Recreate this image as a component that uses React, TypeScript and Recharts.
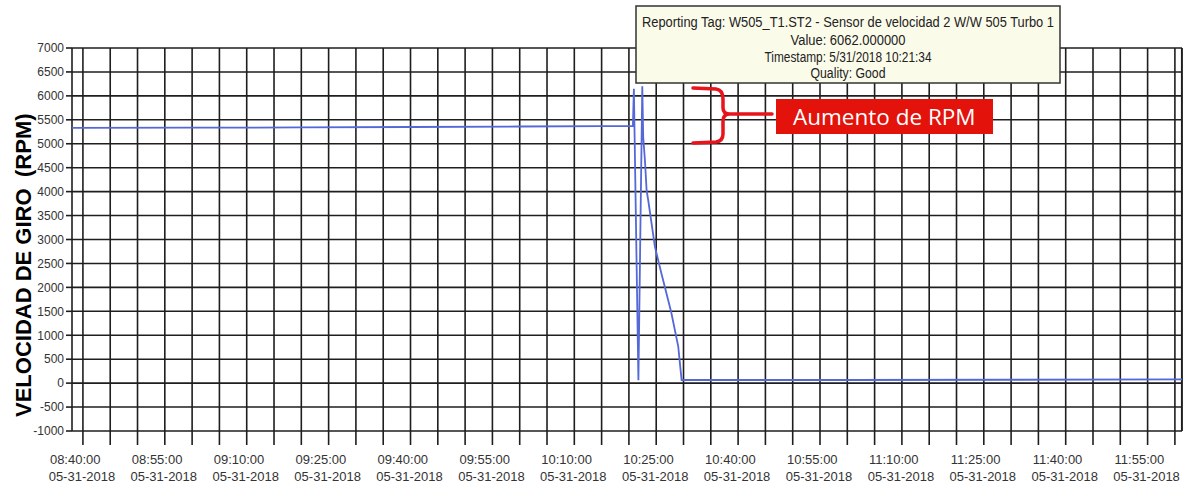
import React from "react"
import { CartesianGrid, Line, LineChart, ReferenceLine, XAxis, YAxis } from "recharts"

// minutes since midnight on 05-31-2018
const minutes = [
    518, 540, 560, 580, 600, 615, 620.73,
    620.91, 621.74, 622.45, 622.62, 622.93, 623.24, 623.53,
    624.76, 625.91, 627.75, 629.03, 629.65,
    660, 690, 721.3,
]
const rpm = [
    5330, 5335, 5340, 5350, 5360, 5370, 5375,
    6150, 60, 6200, 5140, 4660, 4030, 3825,
    2850, 2310, 1480, 770, 65,
    65, 70, 80,
]

const timeLabels = [
    "08:40:00", "08:55:00", "09:10:00", "09:25:00", "09:40:00", "09:55:00", "10:10:00",
    "10:25:00", "10:40:00", "10:55:00", "11:10:00", "11:25:00", "11:40:00", "11:55:00",
]
const dateLabel = "05-31-2018"
const yTicks = [
    7000, 6500, 6000, 5500, 5000, 4500, 4000, 3500, 3000, 2500,
    2000, 1500, 1000, 500, 0, -500, -1000,
]
const tooltipLines = [
    "Reporting Tag: W505_T1.ST2 - Sensor de velocidad 2 W/W 505  Turbo 1",
    "Value: 6062.000000",
    "Timestamp: 5/31/2018 10:21:34",
    "Quality: Good",
]

const startMin = 520
const endMin = 720
const domainMin = 518
const domainMax = 721.3

const data = minutes.map((t, i) => ({ t, v: rpm[i] }))

const gridTicks: number[] = []
for (let m = startMin; m <= endMin; m += 5) gridTicks.push(m)

const font = "'Liberation Sans', Arial, sans-serif"
const gridColor = "#1e1e1e"

function TimeTick(props: any) {
    const { x, y, payload } = props
    const off = payload.value - startMin
    if (off % 15 !== 0) return null
    const label = timeLabels[off / 15]
    if (!label) return null
    return (
        <g>
            <text x={x - 33} y={y + 19} fontSize={13} fontFamily={font} fill="#333" textAnchor="start">
                {label}
            </text>
            <text x={x - 1} y={y + 36} fontSize={13} fontFamily={font} fill="#333" textAnchor="middle">
                {dateLabel}
            </text>
        </g>
    )
}

const tipWidths = [412, 115, 167, 75]
const tipBaselines = [27, 45, 62, 78]

export default function App() {
    return (
        <div style={{ position: "absolute", left: 0, top: 0, width: 1186, height: 488, background: "#fff" }}>
            <LineChart width={1186} height={488} data={data} margin={{ top: 48, right: 4, bottom: 0, left: 0 }}>
                <CartesianGrid stroke={gridColor} strokeWidth={1.6} />
                <XAxis
                    type="number"
                    dataKey="t"
                    domain={[domainMin, domainMax]}
                    ticks={gridTicks}
                    interval={0}
                    allowDataOverflow
                    height={57}
                    axisLine={false}
                    tickSize={14}
                    tickMargin={0}
                    tickLine={{ stroke: gridColor, strokeWidth: 1.6 }}
                    tick={<TimeTick />}
                />
                <YAxis
                    type="number"
                    domain={[-1000, 7000]}
                    ticks={yTicks}
                    interval={0}
                    width={72}
                    axisLine={false}
                    tickSize={6}
                    tickMargin={2}
                    tickLine={{ stroke: gridColor, strokeWidth: 1.6 }}
                    tick={{ fontSize: 12, fill: "#333", fontFamily: font }}
                />
                <ReferenceLine x={domainMax - 0.05} stroke={gridColor} strokeWidth={1.6} />
                <Line
                    type="linear"
                    dataKey="v"
                    stroke="#5468d8"
                    strokeWidth={1.8}
                    dot={false}
                    isAnimationActive={false}
                />
            </LineChart>
            <svg
                width={1186}
                height={488}
                style={{ position: "absolute", left: 0, top: 0, pointerEvents: "none" }}
            >
                <text
                    transform="translate(31,417) rotate(-90)"
                    fontSize={22}
                    fontWeight="bold"
                    fontFamily={font}
                    fill="#000"
                >
                    VELOCIDAD DE GIRO
                </text>
                <text
                    transform="translate(31,177) rotate(-90)"
                    fontSize={22}
                    fontWeight="bold"
                    fontFamily={font}
                    fill="#000"
                >
                    (RPM)
                </text>

                <rect x={636} y={6} width={424} height={77} fill="#fbfbea" stroke="#333" strokeWidth={1.5} />
                {tooltipLines.map((s, i) => (
                    <text
                        key={i}
                        x={848}
                        y={tipBaselines[i]}
                        fontSize={14}
                        fontFamily={font}
                        fill="#222"
                        textAnchor="middle"
                        textLength={tipWidths[i]}
                        lengthAdjust="spacingAndGlyphs"
                    >
                        {s}
                    </text>
                ))}

                <path
                    d="M693,88 L716,89 Q723,90 723,99 L723,108 Q723,114 730,114 Q723,114 723,121 L723,134 Q723,141 716,142 L693,143 M730,114 L772,114"
                    fill="none"
                    stroke="#e8141c"
                    strokeWidth={3.5}
                    strokeLinecap="round"
                />
                <rect x={776} y={99} width={217} height={35} fill="#e3120b" />
                <text x={793} y={125} fontSize={22.5} fontFamily="'Open Sans', sans-serif" fill="#fff">
                    Aumento de RPM
                </text>
            </svg>
        </div>
    )
}
